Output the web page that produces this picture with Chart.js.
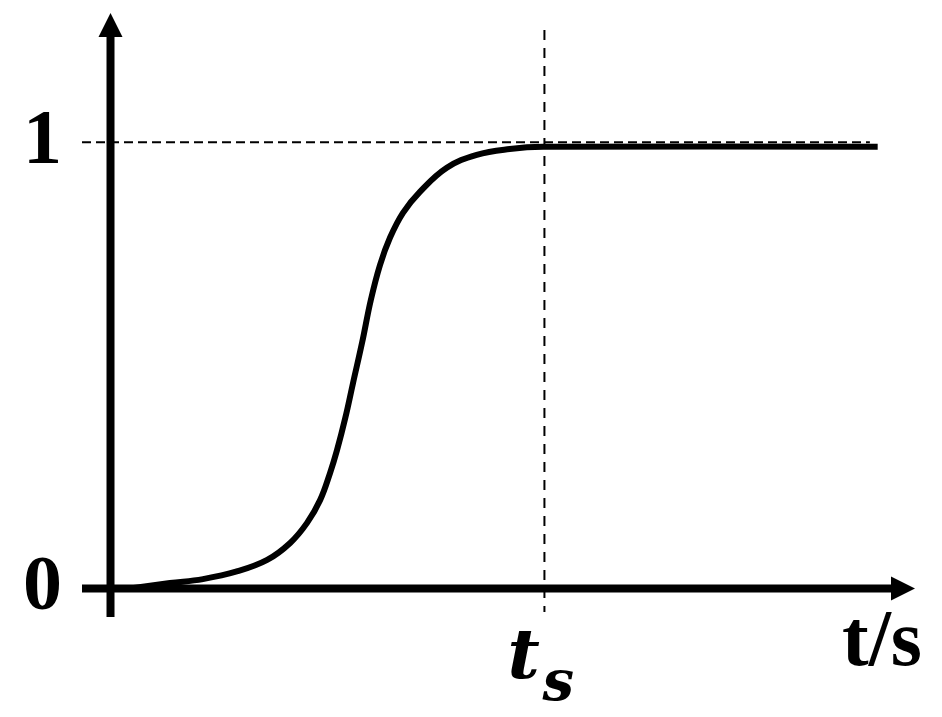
<!DOCTYPE html>
<html>
<head>
<meta charset="utf-8">
<script src="https://cdn.jsdelivr.net/npm/chart.js@4.4.1/dist/chart.umd.min.js"></script>
<style>
  html, body { margin: 0; padding: 0; background: #fff; }
  canvas { display: block; }
</style>
</head>
<body>
<canvas id="stepChart" width="942" height="717"></canvas>
<script>
// step response (t in units where t_s = 10)
const times = [0.45, 1.37, 2.13, 2.91, 3.61, 4.14, 4.53, 4.83, 5.06, 5.22, 5.41, 5.59, 5.80, 6.00, 6.21, 6.44, 6.74, 7.13, 7.75, 8.44, 9.20, 9.97, 17.68];
const response = [0.0, 0.012, 0.021, 0.038, 0.064, 0.102, 0.147, 0.198, 0.259, 0.310, 0.382, 0.461, 0.552, 0.647, 0.725, 0.786, 0.842, 0.889, 0.943, 0.972, 0.985, 0.990, 0.990];
const settleTime = 10;
const finalValue = 1;
const yTicks = [0, 1];
const xLabel = 't/s';

// axis ranges
const xMin = -0.657, xMax = 18.54;
const yMin = -0.064, yMax = 1.29;

const serif = '"Liberation Serif", "Times New Roman", serif';

// draws the arrowed axes and the t_s / t/s labels
const axesPlugin = {
  id: 'axesPlugin',
  afterDatasetsDraw(chart) {
    const { ctx, chartArea, scales } = chart;
    const x0 = scales.x.getPixelForValue(0);
    const y0 = scales.y.getPixelForValue(0);
    const head = 24, half = 12;
    ctx.save();
    ctx.strokeStyle = '#000';
    ctx.fillStyle = '#000';
    ctx.lineWidth = 8;
    ctx.lineCap = 'butt';
    // x axis
    ctx.beginPath();
    ctx.moveTo(chartArea.left, y0);
    ctx.lineTo(chartArea.right - head + 2, y0);
    ctx.stroke();
    ctx.beginPath();
    ctx.moveTo(chartArea.right, y0);
    ctx.lineTo(chartArea.right - head, y0 - half);
    ctx.lineTo(chartArea.right - head, y0 + half);
    ctx.closePath();
    ctx.fill();
    // y axis
    ctx.beginPath();
    ctx.moveTo(x0, chartArea.bottom);
    ctx.lineTo(x0, chartArea.top + head - 2);
    ctx.stroke();
    ctx.beginPath();
    ctx.moveTo(x0, chartArea.top);
    ctx.lineTo(x0 - half, chartArea.top + head);
    ctx.lineTo(x0 + half, chartArea.top + head);
    ctx.closePath();
    ctx.fill();

    // t_s under the settling line
    const xs = scales.x.getPixelForValue(settleTime);
    ctx.textAlign = 'left';
    ctx.textBaseline = 'alphabetic';
    ctx.font = 'italic bold 70px "DejaVu Serif", serif';
    ctx.fillText('t', xs - 37, 678);
    ctx.font = 'italic bold 56px "DejaVu Serif", serif';
    ctx.fillText('s', xs - 2, 700);

    // axis name
    ctx.textAlign = 'right';
    ctx.font = 'bold 80px ' + serif;
    ctx.fillText(xLabel, chartArea.right + 7, 665);
    ctx.restore();
  }
};

new Chart(document.getElementById('stepChart'), {
  type: 'line',
  data: {
    datasets: [{
      label: 'response',
      data: times.map((t, i) => ({ x: t, y: response[i] })),
      borderColor: '#000',
      borderWidth: 6,
      pointRadius: 0,
      tension: 0.4,
      fill: false
    }, {
      label: 'final value',
      data: [{ x: xMin, y: finalValue }, { x: 17.5, y: finalValue }],
      borderColor: '#000',
      borderWidth: 2,
      borderDash: [9, 5],
      pointRadius: 0
    }, {
      label: 'settling time',
      data: [{ x: settleTime, y: 1.252 }, { x: settleTime, y: -0.053 }],
      borderColor: '#000',
      borderWidth: 2,
      borderDash: [10, 8],
      pointRadius: 0
    }]
  },
  options: {
    responsive: false,
    animation: false,
    layout: { padding: { top: 13, right: 27, bottom: 100, left: 0 } },
    scales: {
      x: {
        type: 'linear',
        min: xMin,
        max: xMax,
        display: false
      },
      y: {
        type: 'linear',
        min: yMin,
        max: yMax,
        afterBuildTicks: (scale) => { scale.ticks = yTicks.map(v => ({ value: v })); },
        afterFit: (scale) => { scale.width = 82; scale.paddingTop = 0; scale.paddingBottom = 0; },
        grid: { display: false },
        border: { display: false },
        ticks: {
          autoSkip: false,
          color: '#000',
          padding: 12,
          font: { family: serif, size: 78, weight: 'bold' }
        }
      }
    },
    plugins: {
      legend: { display: false },
      tooltip: { enabled: false }
    }
  },
  plugins: [axesPlugin]
});
</script>
</body>
</html>
